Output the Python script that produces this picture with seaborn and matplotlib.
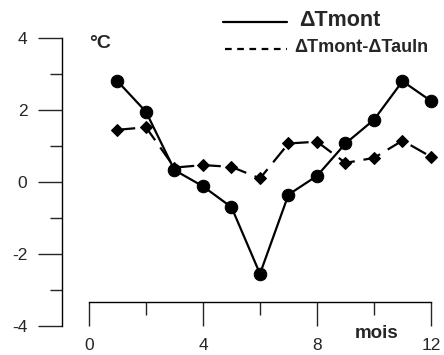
import numpy as np
import pandas as pd
import matplotlib
matplotlib.use("Agg")
import matplotlib.pyplot as plt
from matplotlib.lines import Line2D
import seaborn as sns

months = [1, 2, 3, 4, 5, 6, 7, 8, 9, 10, 11, 12]
dt_mont = [2.8, 1.95, 0.33, -0.12, -0.7, -2.55, -0.35, 0.17, 1.07, 1.73, 2.8, 2.25]
dt_diff = [1.45, 1.52, 0.4, 0.47, 0.42, 0.1, 1.07, 1.12, 0.53, 0.67, 1.15, 0.7]
series_names = ["ΔTmont", "ΔTmont-ΔTauln"]
x_ticks = [0, 4, 8, 12]
y_ticks = [-4, -2, 0, 2, 4]

sns.set_style("white")
plt.rcParams['font.family'] = ['Liberation Sans', 'DejaVu Sans']

fig = plt.figure(figsize=(4.44, 3.55), dpi=100)
ax = fig.add_axes([62/444, (355-326)/355, (431-62)/444, (326-38)/355])

df1 = pd.DataFrame({"mois": months, "val": dt_mont})
df2 = pd.DataFrame({"mois": months, "val": dt_diff})

sns.lineplot(data=df2, x="mois", y="val", ax=ax, color="black", lw=1.6,
             marker="D", markersize=6, markeredgecolor="black", dashes=False,
             clip_on=False)
ax.lines[-1].set_dashes([8, 4])
sns.lineplot(data=df1, x="mois", y="val", ax=ax, color="black", lw=1.6,
             marker="o", markersize=9, markeredgecolor="black", clip_on=False)

ax.set_xlim(-0.947, 12)
ax.set_ylim(-4, 4)
ax.set_xlabel("")
ax.set_ylabel("")

for s in ["top", "right"]:
    ax.spines[s].set_visible(False)
for s in ["left", "bottom"]:
    ax.spines[s].set_color("black")
    ax.spines[s].set_linewidth(1.0)
ax.spines["bottom"].set_position(("data", -3.33))
ax.spines["bottom"].set_bounds(0, 12)
ax.spines["left"].set_bounds(-4, 4)

ax.set_xticks(x_ticks)
ax.set_xticks([2, 6, 10], minor=True)
ax.set_yticks(y_ticks)
ax.set_yticks([-3, -1, 1, 3], minor=True)
ax.set_xticklabels([str(v) for v in x_ticks])
ax.set_yticklabels([str(v) for v in y_ticks])
ax.tick_params(axis="x", which="major", direction="out", length=17, width=1,
               pad=9, labelsize=12.5, bottom=True)
ax.tick_params(axis="x", which="minor", direction="out", length=9, width=1, bottom=True)
ax.tick_params(axis="y", which="major", direction="out", length=17, width=1,
               pad=8, labelsize=12.5, left=True)
ax.tick_params(axis="y", which="minor", direction="out", length=9, width=1, left=True)

fig.text(89/444, 1 - 44/355, "°C", fontsize=14, fontweight="bold", va="center", ha="left")
fig.text(355/444, 1 - 333/355, "mois", fontsize=13.5, fontweight="bold", va="center", ha="left")

# legend
fig.add_artist(Line2D([223/444, 287/444], [1 - 22/355, 1 - 22/355], color="black", lw=1.6,
                      transform=fig.transFigure))
fig.add_artist(Line2D([225/444, 287/444], [1 - 49/355, 1 - 49/355], color="black", lw=1.6,
                      dashes=[3, 2.5], transform=fig.transFigure))
fig.text(299/444, 1 - 21/355, series_names[0], fontsize=15.5, fontweight="bold", va="center", ha="left")
fig.text(294/444, 1 - 48/355, series_names[1], fontsize=13, fontweight="bold", va="center", ha="left")

fig.savefig("out.png", dpi=100)
